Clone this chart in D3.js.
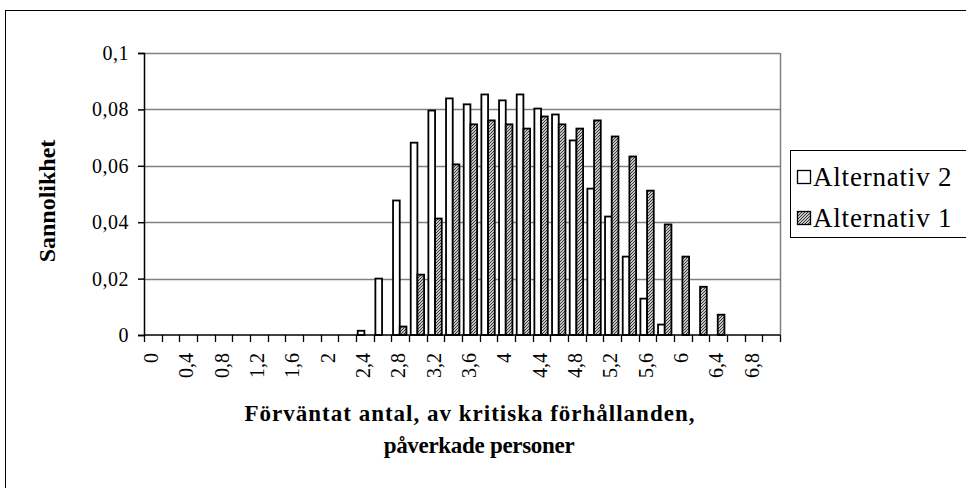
<!DOCTYPE html>
<html>
<head>
<meta charset="utf-8">
<script src="https://cdn.jsdelivr.net/npm/d3@7"></script>
<style>
  html, body { margin: 0; padding: 0; background: #fff; }
  svg { display: block; }
  text { font-family: "Liberation Serif", "Times New Roman", serif; fill: #000; }
</style>
</head>
<body>
<svg id="chart" width="966" height="488"></svg>
<script>
const categories = ["0","0,2","0,4","0,6","0,8","1","1,2","1,4","1,6","1,8","2","2,2","2,4","2,6","2,8","3","3,2","3,4","3,6","3,8","4","4,2","4,4","4,6","4,8","5","5,2","5,4","5,6","5,8","6","6,2","6,4","6,6","6,8","7"];
const tickLabels = ["0","0,4","0,8","1,2","1,6","2","2,4","2,8","3,2","3,6","4","4,4","4,8","5,2","5,6","6","6,4","6,8"];
const seriesNames = ["Alternativ 2", "Alternativ 1"];
const alternativ2 = [0,0,0,0,0,0,0,0,0,0,0,0,0.0015,0.020,0.0477,0.0682,0.0796,0.0839,0.0818,0.0853,0.0832,0.0853,0.0803,0.0782,0.0690,0.0519,0.0420,0.0278,0.0129,0.0037,0,0,0,0,0,0];
const alternativ1 = [0,0,0,0,0,0,0,0,0,0,0,0,0,0,0.0030,0.0214,0.0413,0.0605,0.0747,0.0761,0.0747,0.0732,0.0775,0.0747,0.0732,0.0761,0.0704,0.0633,0.0512,0.0392,0.0278,0.0171,0.0072,0,0,0];
const yTicks = [0, 0.02, 0.04, 0.06, 0.08, 0.1];

const svg = d3.select("#chart");
const defs = svg.append("defs");
const pat = defs.append("pattern").attr("id", "hatch").attr("patternUnits", "userSpaceOnUse")
  .attr("width", 3).attr("height", 3);
pat.append("rect").attr("width", 3).attr("height", 3).attr("fill", "#c4c4c4");
pat.append("path").attr("d", "M-1,1 L1,-1 M0,3 L3,0 M2,4 L4,2").attr("stroke", "#3a3a3a").attr("stroke-width", 1);

// outer frame
svg.append("rect").attr("x", 5.5).attr("y", 10.5).attr("width", 980).attr("height", 500)
  .attr("fill", "none").attr("stroke", "#000").attr("stroke-width", 1);

const pLeft = 144, pRight = 780, pTop = 53, pBottom = 335;
const x = d3.scaleBand().domain(categories).range([pLeft, pRight]).padding(0);
const x1 = d3.scaleBand().domain(seriesNames).range([0, x.bandwidth()]).paddingInner(0).paddingOuter(0.32).align(0.4);
const y = d3.scaleLinear().domain([0, 0.1]).range([pBottom, pTop]);
const fmt = v => (v === 0 ? "0" : String(+v.toFixed(2)).replace(".", ","));

// gridlines
svg.append("g").selectAll("line").data(yTicks.filter(v => v > 0)).join("line")
  .attr("x1", pLeft).attr("x2", pRight)
  .attr("y1", d => Math.round(y(d)) + 0.5).attr("y2", d => Math.round(y(d)) + 0.5)
  .attr("stroke", "#808080").attr("stroke-width", 1.5);
// right border
svg.append("line").attr("x1", pRight + 0.5).attr("x2", pRight + 0.5).attr("y1", pTop).attr("y2", pBottom)
  .attr("stroke", "#808080").attr("stroke-width", 1.5);

// bars
const series = [alternativ2, alternativ1];
const g = svg.append("g");
series.forEach((vals, si) => {
  g.selectAll(null).data(vals.map((v, i) => ({ v, c: categories[i] })).filter(d => d.v > 0)).join("rect")
    .attr("x", d => x(d.c) + x1(seriesNames[si]))
    .attr("y", d => y(d.v))
    .attr("width", x1.bandwidth())
    .attr("height", d => y(0) - y(d.v))
    .attr("fill", si === 0 ? "#fff" : "url(#hatch)")
    .attr("stroke", "#000").attr("stroke-width", 1.8);
});

// y axis
const yAxis = d3.axisLeft(y).tickValues(yTicks).tickFormat(fmt).tickSize(6).tickPadding(9);
const ya = svg.append("g").attr("transform", `translate(${pLeft},0)`).call(yAxis);
ya.select(".domain").attr("stroke", "#000").attr("stroke-width", 1.5);
ya.selectAll(".tick line").attr("stroke", "#000").attr("stroke-width", 1.5);
ya.selectAll(".tick text").style("font-family", "Liberation Serif").style("font-size", "20px")
  .style("letter-spacing", "0.5px").attr("fill", "#000");

// x axis
const xa = svg.append("g").attr("transform", `translate(0,${pBottom})`);
xa.append("line").attr("x1", pLeft).attr("x2", pRight).attr("y1", 0).attr("y2", 0).attr("stroke", "#000").attr("stroke-width", 1.5);
const boundaries = categories.map(c => x(c)).concat([pRight]);
xa.selectAll("line.tk").data(boundaries).join("line").attr("class", "tk")
  .attr("x1", d => Math.round(d) + 0.5).attr("x2", d => Math.round(d) + 0.5).attr("y1", 0).attr("y2", 7)
  .attr("stroke", "#000").attr("stroke-width", 1.3);
const labeled = categories.filter(c => tickLabels.includes(c));
xa.selectAll("text").data(labeled).join("text")
  .attr("transform", d => `translate(${x(d) + x.bandwidth() / 2 - 2},18) rotate(-90)`)
  .attr("text-anchor", "end").attr("dy", "0.35em")
  .style("font-size", "20px").text(d => d);

// axis titles
svg.append("text").attr("transform", `translate(55,${(pTop + pBottom) / 2 + 7}) rotate(-90)`)
  .attr("text-anchor", "middle").style("font-size", "24px").style("font-weight", "bold").text("Sannolikhet");
svg.append("text").attr("x", 470).attr("y", 421).attr("text-anchor", "middle")
  .style("font-size", "23px").style("font-weight", "bold").style("letter-spacing", "1px")
  .text("Förväntat antal, av kritiska förhållanden,");
svg.append("text").attr("x", 479).attr("y", 453).attr("text-anchor", "middle")
  .style("font-size", "23px").style("font-weight", "bold").style("letter-spacing", "-0.3px")
  .text("påverkade personer");

// legend
const lg = svg.append("g");
lg.append("rect").attr("x", 790.5).attr("y", 150.5).attr("width", 200).attr("height", 87)
  .attr("fill", "#fff").attr("stroke", "#000").attr("stroke-width", 1);
seriesNames.forEach((name, i) => {
  const cy = 177 + i * 41;
  lg.append("rect").attr("x", 797.5).attr("y", cy - 6.5).attr("width", 13).attr("height", 13)
    .attr("fill", i === 0 ? "#fff" : "url(#hatch)").attr("stroke", "#000").attr("stroke-width", 1.3);
  lg.append("text").attr("x", 813).attr("y", cy).attr("dy", "0.35em").style("font-size", "27px")
    .style("letter-spacing", "0.8px").text(name);
});
</script>
</body>
</html>
